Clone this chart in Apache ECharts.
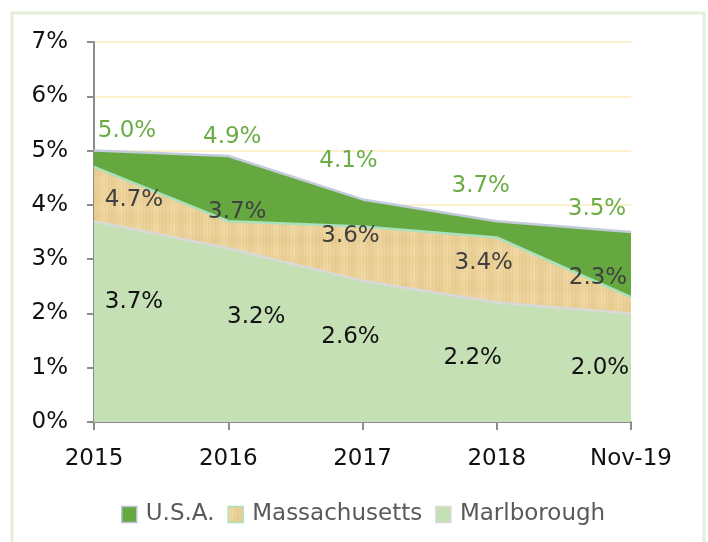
<!DOCTYPE html>
<html><head><meta charset="utf-8">
<script src="https://cdn.jsdelivr.net/npm/echarts@6/dist/echarts.min.js"></script>
<style>html,body{margin:0;padding:0;background:#fff}#c{width:708px;height:542px}</style>
</head><body><div id="c"></div>
<script>
const categories = ['2015', '2016', '2017', '2018', 'Nov-19'];
const usa = [5.0, 4.9, 4.1, 3.7, 3.5];
const massachusetts = [4.7, 3.7, 3.6, 3.4, 2.3];
const marlborough = [3.7, 3.2, 2.6, 2.2, 2.0];
const yTicks = [0, 1, 2, 3, 4, 5, 6, 7];

// label placement (pixel offsets from point), styling only
const usaOff = [[33,-20],[4,-19],[-14,-38],[-16,-35],[-34,-23]];
const maOff = [[40,33],[9,-9],[-12,9],[-13,26],[-33,-19]];
const marlOff = [[40,81],[28,69],[-12,56],[-24,55],[-31,55]];

// papyrus-like texture (soft tan with light fibrous streaks)
function makeTexture(){
  const c = document.createElement('canvas');
  c.width = 120; c.height = 90;
  const g = c.getContext('2d');
  g.fillStyle = '#ecd197'; g.fillRect(0,0,120,90);
  for (let x = 0; x < 120; x++) {
    const v = Math.sin(x*1.9)*0.5 + Math.sin(x*0.37+1)*0.5;
    g.fillStyle = v > 0 ? 'rgba(250,236,200,' + (0.35*v) + ')' : 'rgba(200,165,95,' + (-0.15*v) + ')';
    g.fillRect(x,0,1,90);
  }
  for (let y = 0; y < 90; y++) {
    const v = Math.sin(y*2.7+0.5)*0.6 + Math.sin(y*0.29)*0.4;
    g.fillStyle = v > 0 ? 'rgba(248,236,205,' + (0.15*v) + ')' : 'rgba(205,170,100,' + (-0.12*v) + ')';
    g.fillRect(0,y,120,1);
  }
  return c;
}
const tex = { image: makeTexture(), repeat: 'repeat' };
const FONT = '"DejaVu Sans"';

function mk(name, vals, offs, areaColor, lineColor, labelColor){
  return {
    name, type: 'line', data: vals.map((v,i)=>({value:v, label:{offset:offs[i]}})),
    symbol: 'circle', symbolSize: 0.1,
    lineStyle: {color: lineColor, width: 2.5},
    itemStyle: {color: areaColor, borderColor: lineColor, borderWidth: 1},
    areaStyle: {color: areaColor, opacity: 1, origin: 'start'},
    label: {show: true, position: 'inside', color: labelColor, fontSize: 23, fontFamily: FONT,
      formatter: p => p.value.toFixed(1) + '%'},
    emphasis: {disabled: true}, animation: false
  };
}

const chart = echarts.init(document.getElementById('c'));
chart.setOption({
  animation: false,
  graphic: [{type:'rect', shape:{x:12, y:13, width:692, height:545}, style:{fill:'none', stroke:'#e3efd9', lineWidth:3}, silent:true}],
  grid: {left: 94, right: 77, top: 42, bottom: 120},
  legend: {
    top: 498, left: 116, itemWidth: 15, itemHeight: 16, itemGap: 13,
    icon: 'rect',
    textStyle: {fontSize: 23, color: '#595959', fontFamily: FONT, padding: [0,0,0,4]},
    data: [
      {name: 'U.S.A.', itemStyle: {color: '#66a840', borderColor: '#b8c2d6', borderWidth: 1.5}},
      {name: 'Massachusetts', itemStyle: {color: tex, borderColor: '#a8e2bc', borderWidth: 1.5}},
      {name: 'Marlborough', itemStyle: {color: '#c5e0b4', borderColor: '#d9d9d9', borderWidth: 1.5}}
    ]
  },
  xAxis: {
    type: 'category', data: categories, boundaryGap: false,
    axisLine: {lineStyle: {color: '#8c8c8c', width: 2}},
    axisTick: {show: true, length: 8, lineStyle: {color: '#8c8c8c', width: 2}},
    axisLabel: {fontSize: 23, color: '#111', fontFamily: FONT, margin: 26}
  },
  yAxis: {
    type: 'value', min: 0, max: 7, interval: 1,
    axisLine: {show: true, lineStyle: {color: '#8c8c8c', width: 2}},
    axisTick: {show: true, length: 7, lineStyle: {color: '#8c8c8c', width: 2}},
    axisLabel: {fontSize: 23, color: '#111', fontFamily: FONT, margin: 26,
      formatter: v => yTicks.includes(v) ? v + '%' : ''},
    splitLine: {lineStyle: {color: '#fdf0cc', width: 2}}
  },
  series: [
    mk('U.S.A.', usa, usaOff, '#66a840', '#c2cadc', '#6aad45'),
    mk('Massachusetts', massachusetts, maOff, tex, '#a8e2bc', '#404040'),
    mk('Marlborough', marlborough, marlOff, '#c5e0b4', '#d9d9d9', '#111111')
  ]
});
</script></body></html>
